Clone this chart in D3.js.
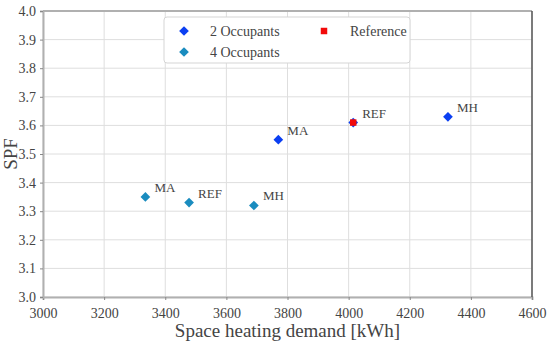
<!DOCTYPE html>
<html>
<head>
<meta charset="utf-8">
<script src="https://cdn.jsdelivr.net/npm/d3@7"></script>
<style>
  body { margin: 0; background: #fff; }
  svg { display: block; }
  text { font-family: "Liberation Serif", "DejaVu Serif", serif; fill: #444; }
</style>
</head>
<body>
<svg id="chart" width="550" height="346"></svg>
<script>
// Data
const labels = ['MA', 'REF', 'MH'];
const demand2 = [3770, 4015, 4325];
const spf2 = [3.55, 3.61, 3.63];
const demand4 = [3335, 3478, 3690];
const spf4 = [3.35, 3.33, 3.32];
const refDemand = [4015];
const refSpf = [3.61];
const xTicks = [3000, 3200, 3400, 3600, 3800, 4000, 4200, 4400, 4600];
const yTicks = [3.0, 3.1, 3.2, 3.3, 3.4, 3.5, 3.6, 3.7, 3.8, 3.9, 4.0];

const width = 550, height = 346;
const margin = {top: 11, right: 18, bottom: 49, left: 43};
const serif = '"Liberation Serif", "DejaVu Serif", serif';

const svg = d3.select('#chart');

const x = d3.scaleLinear([3000, 4600], [margin.left, width - margin.right]);
const y = d3.scaleLinear([3.0, 4.0], [height - margin.bottom, margin.top]);

// grid
svg.append('g')
  .selectAll('line')
  .data(xTicks).enter()
  .append('line')
    .attr('x1', d => x(d)).attr('x2', d => x(d))
    .attr('y1', y(3.0)).attr('y2', y(4.0))
    .attr('stroke', '#dedede')
    .attr('stroke-width', 1);

svg.append('g')
  .selectAll('line')
  .data(yTicks).enter()
  .append('line')
    .attr('x1', x(3000)).attr('x2', x(4600))
    .attr('y1', d => y(d)).attr('y2', d => y(d))
    .attr('stroke', '#dedede')
    .attr('stroke-width', 1);

// axes
const xAxis = svg.append('g')
  .attr('transform', `translate(0, ${y(3.0)})`)
  .call(d3.axisBottom(x).tickValues(xTicks).tickSize(3).tickPadding(8).tickFormat(d3.format('d')));

const yAxis = svg.append('g')
  .attr('transform', `translate(${x(3000)}, 0)`)
  .call(d3.axisLeft(y).tickValues(yTicks).tickSize(3).tickPadding(4).tickFormat(d3.format('.1f')));

[xAxis, yAxis].forEach(g => {
  g.attr('font-family', serif).attr('font-size', 14);
  g.select('.domain').attr('stroke', '#b0b0b0').attr('stroke-width', 2);
  g.selectAll('.tick line').attr('stroke', '#888');
  g.selectAll('.tick text').attr('fill', '#444');
});

// top and right spines
svg.append('line')
  .attr('x1', x(3000)).attr('x2', x(4600))
  .attr('y1', y(4.0)).attr('y2', y(4.0))
  .attr('stroke', '#b0b0b0').attr('stroke-width', 2);
svg.append('line')
  .attr('x1', x(4600)).attr('x2', x(4600))
  .attr('y1', y(4.0)).attr('y2', y(3.0))
  .attr('stroke', '#555').attr('stroke-width', 1.5);

// axis titles
svg.append('text')
  .attr('x', (x(3000) + x(4600)) / 2)
  .attr('y', 337)
  .attr('text-anchor', 'middle')
  .style('font-size', '19px')
  .text('Space heating demand [kWh]');

svg.append('text')
  .attr('transform', `translate(17, ${(y(3.0) + y(4.0)) / 2}) rotate(-90)`)
  .attr('text-anchor', 'middle')
  .style('font-size', '19px')
  .text('SPF');

// markers
const diamond = d3.symbol().type(d3.symbolDiamond2).size(60);
const square = d3.symbol().type(d3.symbolSquare).size(42);

const series = [
  {xs: demand4, ys: spf4, color: '#1a8cbf'},
  {xs: demand2, ys: spf2, color: '#0b3ff2'}
];

series.forEach(s => {
  const pts = s.xs.map((d, i) => ({x: d, y: s.ys[i], label: labels[i]}));
  const g = svg.append('g');
  g.selectAll('path')
    .data(pts).enter()
    .append('path')
      .attr('d', diamond)
      .attr('transform', d => `translate(${x(d.x)}, ${y(d.y)})`)
      .attr('fill', s.color);
  g.selectAll('text')
    .data(pts).enter()
    .append('text')
      .attr('x', d => x(d.x) + 9)
      .attr('y', d => y(d.y) - 5)
      .style('font-size', '13px')
      .text(d => d.label);
});

svg.append('g')
  .selectAll('path')
  .data(refDemand.map((d, i) => ({x: d, y: refSpf[i]}))).enter()
  .append('path')
    .attr('d', square)
    .attr('transform', d => `translate(${x(d.x)}, ${y(d.y)})`)
    .attr('fill', '#f20a0a');

// legend
const legend = svg.append('g');
legend.append('rect')
  .attr('x', 164).attr('y', 17)
  .attr('width', 246).attr('height', 46)
  .attr('rx', 3)
  .attr('fill', '#fff')
  .attr('stroke', '#d5d5d5');

const legendItems = [
  {name: '2 Occupants', color: '#0b3ff2', shape: diamond, mx: 184, my: 31},
  {name: '4 Occupants', color: '#1a8cbf', shape: diamond, mx: 184, my: 52},
  {name: 'Reference', color: '#f20a0a', shape: square, mx: 324, my: 31}
];

legendItems.forEach(item => {
  legend.append('path')
    .attr('d', item.shape)
    .attr('transform', `translate(${item.mx}, ${item.my})`)
    .attr('fill', item.color);
  legend.append('text')
    .attr('x', item.mx + 26)
    .attr('y', item.my + 5)
    .style('font-size', '14px')
    .text(item.name);
});
</script>
</body>
</html>
